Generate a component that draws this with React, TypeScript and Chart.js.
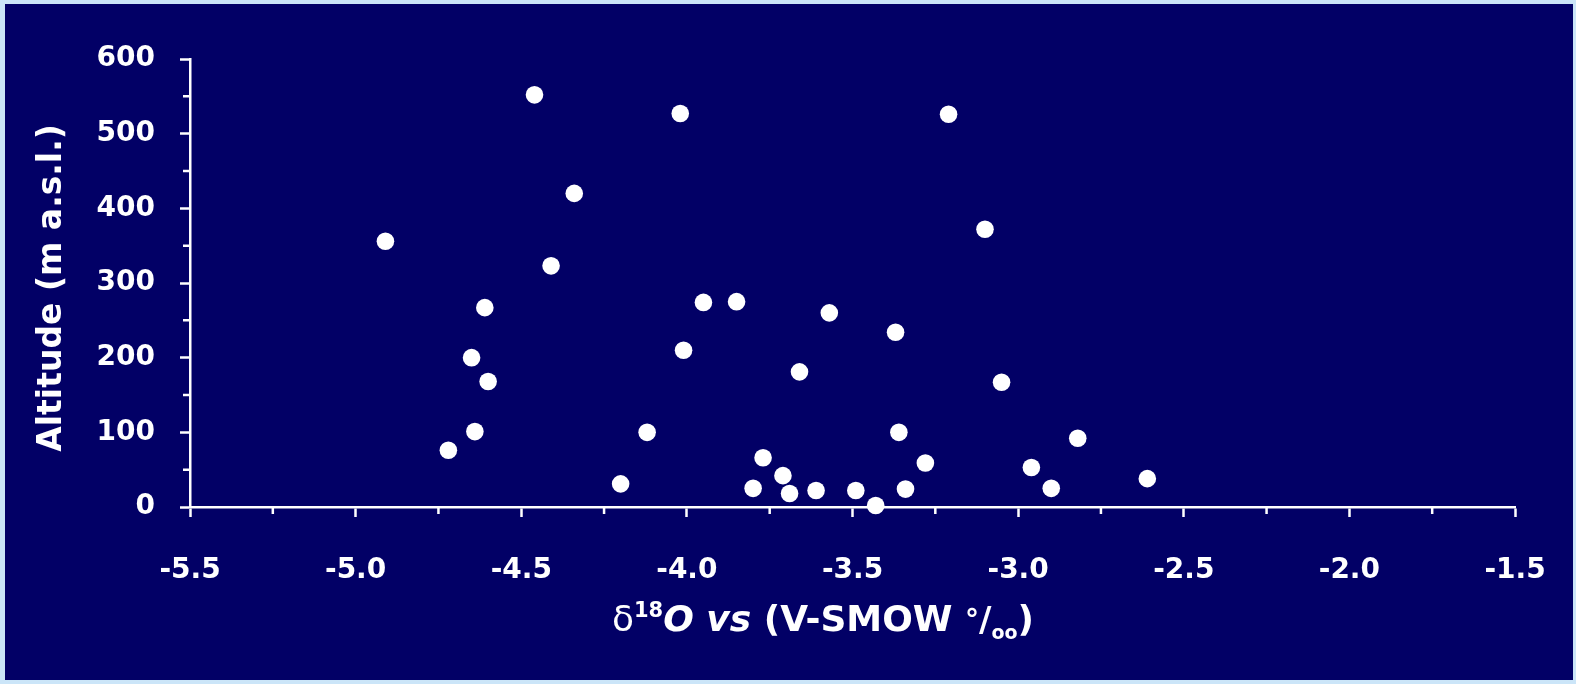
import React, { useEffect, useRef } from 'react';
import { Chart, registerables } from 'chart.js';

Chart.register(...registerables);

// δ18O (‰ V-SMOW) and altitude (m a.s.l.) pairs
const deltaO18 = [
  -4.91, -4.72, -4.65, -4.64, -4.61, -4.6, -4.46, -4.41, -4.34, -4.2,
  -4.12, -4.02, -4.01, -3.95, -3.85, -3.8, -3.77, -3.71, -3.69, -3.66,
  -3.61, -3.57, -3.49, -3.43, -3.37, -3.36, -3.34, -3.28, -3.21, -3.1,
  -3.05, -2.96, -2.9, -2.82, -2.61,
];
const altitude = [
  356, 76, 200, 101, 267, 168, 552, 323, 420, 31,
  100, 527, 210, 274, 275, 25, 66, 42, 18, 181,
  22, 260, 22, 2, 234, 100, 24, 59, 526, 372,
  167, 53, 25, 92, 38,
];

const xMin = -5.5;
const xMax = -1.5;
const xMajorStep = 0.5;
const xMinorStep = 0.25;
const yMin = 0;
const yMax = 600;
const yMajorStep = 100;
const yMinorStep = 50;

const yTitle = 'Altitude (m a.s.l.)';
const FONT = '"Comic Sans MS", "DejaVu Sans", sans-serif';
const NAVY = '#020066';
const FRAME = '#cbe5f8';

const isMultiple = (v: number, step: number) =>
  Math.abs(v / step - Math.round(v / step)) < 1e-6;

const axisDecor = {
  id: 'axisDecor',
  afterDraw(chart: any) {
    const ctx = chart.ctx as CanvasRenderingContext2D;
    const xs = chart.scales.x;
    const ys = chart.scales.y;
    ctx.save();
    // minor ticks
    ctx.strokeStyle = 'white';
    ctx.lineWidth = 2.5;
    ctx.beginPath();
    xs.ticks.forEach((t: any) => {
      if (!isMultiple(t.value, xMajorStep)) {
        const px = xs.getPixelForValue(t.value);
        ctx.moveTo(px, xs.top);
        ctx.lineTo(px, xs.top + 7);
      }
    });
    ys.ticks.forEach((t: any) => {
      if (!isMultiple(t.value, yMajorStep)) {
        const py = ys.getPixelForValue(t.value);
        ctx.moveTo(ys.right, py);
        ctx.lineTo(ys.right - 7, py);
      }
    });
    ctx.stroke();

    // y title
    ctx.fillStyle = 'white';
    ctx.save();
    ctx.translate(47, (ys.top + ys.bottom) / 2 + 5);
    ctx.rotate(-Math.PI / 2);
    ctx.font = `bold 33px ${FONT}`;
    ctx.textAlign = 'center';
    ctx.textBaseline = 'middle';
    ctx.fillText(yTitle, 0, 0);
    ctx.restore();

    // x title with rich formatting
    const runs: { t: string; f: string; dy: number }[] = [
      { t: 'δ', f: `36px ${FONT}`, dy: 0 },
      { t: '18', f: `bold 21px ${FONT}`, dy: -14 },
      { t: 'O', f: `italic bold 36px ${FONT}`, dy: 0 },
      { t: ' ', f: `bold 36px ${FONT}`, dy: 0 },
      { t: 'vs', f: `italic bold 36px ${FONT}`, dy: 0 },
      { t: ' (V-SMOW ', f: `bold 36px ${FONT}`, dy: 0 },
      { t: '°', f: `bold 28px ${FONT}`, dy: -2 },
      { t: '/', f: `bold 34px ${FONT}`, dy: 0 },
      { t: 'oo', f: `bold 19px ${FONT}`, dy: 8 },
      { t: ')', f: `bold 36px ${FONT}`, dy: 0 },
    ];
    let total = 0;
    const widths = runs.map((r) => {
      ctx.font = r.f;
      const w = ctx.measureText(r.t).width;
      total += w;
      return w;
    });
    let x = 818 - total / 2;
    const baseline = 627;
    ctx.textAlign = 'left';
    ctx.textBaseline = 'alphabetic';
    runs.forEach((r, i) => {
      ctx.font = r.f;
      ctx.fillText(r.t, x, baseline + r.dy);
      x += widths[i];
    });
    ctx.restore();
  },
};

export default function App() {
  const canvasRef = useRef<HTMLCanvasElement | null>(null);

  useEffect(() => {
    const canvas = canvasRef.current;
    if (!canvas) return;
    const points = deltaO18.map((x, i) => ({ x, y: altitude[i] }));
    const chart = new Chart(canvas, {
      type: 'scatter',
      data: {
        datasets: [
          {
            data: points,
            pointRadius: 8.8,
            pointHoverRadius: 8.8,
            backgroundColor: 'white',
            borderColor: 'white',
            borderWidth: 0,
            clip: false as any,
          },
        ],
      },
      options: {
        responsive: false,
        animation: false,
        layout: { padding: { left: 0, right: 58, top: 55, bottom: 0 } },
        plugins: {
          legend: { display: false },
          tooltip: { enabled: false },
        },
        scales: {
          x: {
            type: 'linear',
            min: xMin,
            max: xMax,
            afterFit: (s: any) => {
              s.height = 173;
              s.paddingLeft = 0;
              s.paddingRight = 0;
            },
            border: { display: true, color: 'white', width: 2.5 },
            grid: {
              display: true,
              drawOnChartArea: false,
              drawTicks: true,
              tickLength: 10,
              tickWidth: 2.5,
              tickColor: (c: any) =>
                c.tick && isMultiple(c.tick.value, xMajorStep) ? 'white' : 'rgba(0,0,0,0)',
            },
            ticks: {
              stepSize: xMinorStep,
              autoSkip: false,
              maxRotation: 0,
              padding: 37,
              color: 'white',
              font: { family: FONT, size: 28, weight: 'bold' },
              callback: (v: any) =>
                isMultiple(Number(v), xMajorStep) ? Number(v).toFixed(1) : '',
            },
          },
          y: {
            type: 'linear',
            min: yMin,
            max: yMax,
            afterFit: (s: any) => {
              s.width = 185;
              s.paddingTop = 0;
              s.paddingBottom = 0;
            },
            border: { display: true, color: 'white', width: 2.5 },
            grid: {
              display: true,
              drawOnChartArea: false,
              drawTicks: true,
              tickLength: 10,
              tickWidth: 2.5,
              tickColor: (c: any) =>
                c.tick && isMultiple(c.tick.value, yMajorStep) ? 'white' : 'rgba(0,0,0,0)',
            },
            ticks: {
              stepSize: yMinorStep,
              autoSkip: false,
              padding: 25,
              color: 'white',
              font: { family: FONT, size: 28, weight: 'bold' },
              callback: (v: any) =>
                isMultiple(Number(v), yMajorStep) ? String(v) : '',
            },
          },
        },
      },
      plugins: [axisDecor],
    });
    return () => chart.destroy();
  }, []);

  return (
    <div
      style={{
        position: 'fixed',
        left: 0,
        top: 0,
        width: 1576,
        height: 684,
        background: FRAME,
      }}
    >
      <div
        style={{
          position: 'absolute',
          left: 5,
          top: 4,
          width: 1568,
          height: 676,
          background: NAVY,
        }}
      >
        <canvas ref={canvasRef} width={1568} height={676} style={{ display: 'block' }} />
      </div>
    </div>
  );
}
